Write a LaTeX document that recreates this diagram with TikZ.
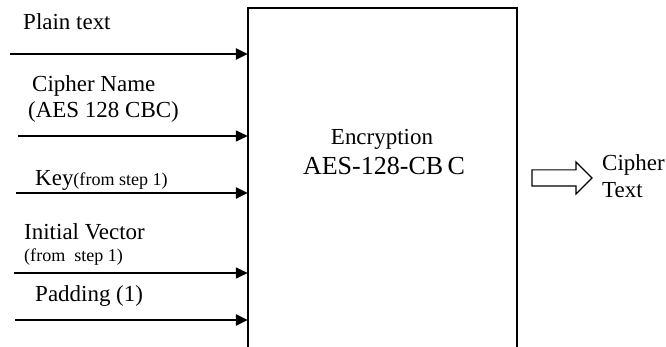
\documentclass[tikz,border=0pt]{standalone}
\usepackage{fontspec}
\setmainfont{Liberation Serif}
\usepackage{tikz}
\usetikzlibrary{arrows.meta,positioning,shapes.arrows}

\begin{document}
\begin{tikzpicture}[
  x=0.03cm, y=-0.03cm,
  label/.style={anchor=base west, inner sep=0pt, font=\fontsize{19.6}{26}\selectfont},
  small/.style={font=\fontsize{15.4}{18}\selectfont},
  inarrow/.style={-{Triangle[length=0.36cm, width=0.33cm]}, line width=2.4pt},
  thinarrow/.style={inarrow, line width=1.3pt}
]
\useasboundingbox (0,0) rectangle (666,347);

% encryption block, open at the bottom
\node[minimum width=8.07cm, minimum height=10.17cm, inner sep=0pt] (encbox) at (382.5,177.5) {};
\draw[line width=1.6pt] (encbox.south west) -- (encbox.north west) -- (encbox.north east) -- (encbox.south east);
\node[anchor=base, inner sep=0pt, font=\fontsize{19.6}{26}\selectfont] (encname) at (382,145) {Encryption};
\node[anchor=base, inner sep=0pt, font=\fontsize{22.2}{26}\selectfont] (encmode) at (384,175) {AES-128-CB\,C};

% inputs
\node[label] (plain) at (23,30) {Plain text};
\node[label] (ciphername) at (32,92) {Cipher Name};
\node[label] (ciphermode) at (28,118) {(AES 128 CBC)};
\node[label] (key) at (35,186) {Key{\fontsize{15.4}{18}\selectfont(from step 1)}};
\node[label] (iv) at (24,240) {Initial Vector};
\node[label, small] (ivnote) at (24,262) {(from\ \ step 1)};
\node[label] (padding) at (35,302) {Padding (1)};

\coordinate (plainin) at (10,54);
\coordinate (ciphernamein) at (18,136);
\coordinate (keyin) at (16,193);
\coordinate (ivin) at (14,273);
\coordinate (paddingin) at (15,320);

\draw[inarrow] (plainin) -- (plainin -| encbox.west);
\draw[thinarrow] (ciphernamein) -- (ciphernamein -| encbox.west);
\draw[inarrow] (keyin) -- (keyin -| encbox.west);
\draw[thinarrow] (ivin) -- (ivin -| encbox.west);
\draw[inarrow] (paddingin) -- (paddingin -| encbox.west);

% output
\node[single arrow, draw, line width=1pt, inner xsep=0pt, inner ysep=0.225cm,
  single arrow head extend=0.24cm, minimum height=1.8cm] (outarrow) at (558,178) {};
\node[label] (cipher) at (602,171) {Cipher};
\node[label] (text) at (602,198) {Text};
\end{tikzpicture}
\end{document}
